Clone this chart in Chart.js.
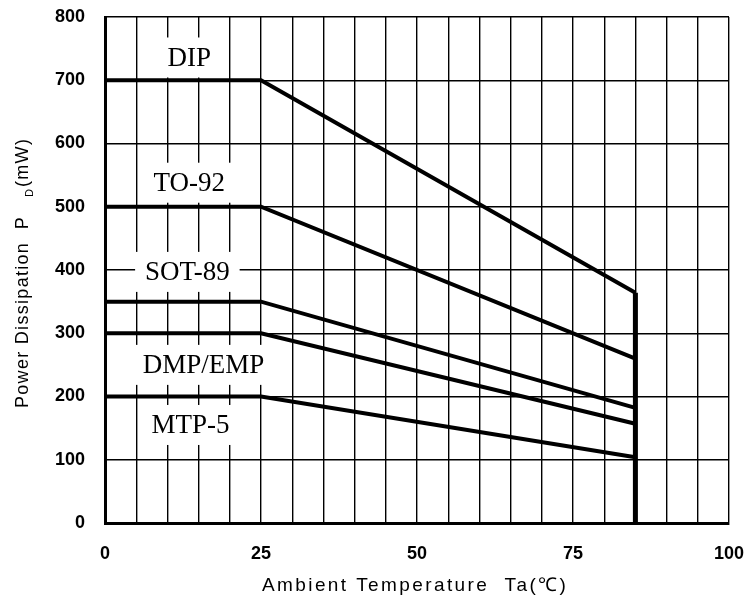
<!DOCTYPE html>
<html>
<head>
<meta charset="utf-8">
<script src="https://cdn.jsdelivr.net/npm/chart.js@4.4.1/dist/chart.umd.min.js"></script>
<style>
  html, body { margin: 0; padding: 0; background: #fff; }
  #wrap { width: 749px; height: 601px; }
</style>
</head>
<body>
<div id="wrap"><canvas id="c" width="749" height="601"></canvas></div>
<script>
'use strict';

// データ（読み取り値）
const temps = [0, 25, 85];
const packages = ['DIP', 'TO-92', 'SOT-89', 'DMP/EMP', 'MTP-5'];
const pdDIP = [700, 700, 364];
const pdTO92 = [500, 500, 260];
const pdSOT89 = [350, 350, 182];
const pdDMP = [300, 300, 157];
const pdMTP5 = [200, 200, 104];
const cutoffX = [85, 85];
const cutoffY = [364, 0];
// ラベル位置（データ座標）
const labelX = [13.5, 13.5, 13.2, 15.8, 13.7];
const labelY = [736, 538, 397, 250, 155];
const xTicks = [0, 25, 50, 75, 100];

const seriesValues = [pdDIP, pdTO92, pdSOT89, pdDMP, pdMTP5];

function toPoints(xs, ys) {
  return xs.map((x, i) => ({ x, y: ys[i] }));
}

const datasets = seriesValues.map((vals, i) => ({
  label: packages[i],
  data: toPoints(temps, vals),
  borderColor: '#000',
  borderWidth: 4,
  pointRadius: 0,
  fill: false,
}));
datasets.push({
  label: 'cutoff',
  data: toPoints(cutoffX, cutoffY),
  borderColor: '#000',
  borderWidth: 5,
  pointRadius: 0,
  fill: false,
});

const SANS = '"Liberation Sans", Arial, sans-serif';

// パッケージ名（白背景つき）
const labelPlugin = {
  id: 'pkgLabels',
  beforeDatasetsDraw(chart) {
    const { ctx, scales } = chart;
    ctx.save();
    ctx.font = '27px "Liberation Serif", "Times New Roman", serif';
    ctx.textAlign = 'center';
    ctx.textBaseline = 'middle';
    packages.forEach((name, i) => {
      const x = scales.x.getPixelForValue(labelX[i]);
      const y = scales.y.getPixelForValue(labelY[i]);
      const w = ctx.measureText(name).width;
      ctx.fillStyle = '#fff';
      ctx.fillRect(x - w / 2 - 10, y - 20, w + 20, 40);
      ctx.fillStyle = '#000';
      ctx.fillText(name, x, y + 1);
    });
    ctx.restore();
  },
  afterDraw(chart) {
    const { ctx } = chart;
    ctx.save();
    ctx.fillStyle = '#000';

    // x軸タイトル
    ctx.font = '19px ' + SANS;
    ctx.letterSpacing = '2.4px';
    ctx.textAlign = 'left';
    ctx.textBaseline = 'alphabetic';
    ctx.fillText('Ambient Temperature  Ta(\u2103)', 262, 591);

    // y軸タイトル（下付きD）
    ctx.translate(28, 408);
    ctx.rotate(-Math.PI / 2);
    ctx.letterSpacing = '1.3px';
    ctx.font = '18px ' + SANS;
    ctx.fillText('Power Dissipation  P', 0, 0);
    ctx.letterSpacing = '0px';
    ctx.font = '11px ' + SANS;
    ctx.fillText('D', 211, 5);
    ctx.letterSpacing = '1.3px';
    ctx.font = '18px ' + SANS;
    ctx.fillText('(mW)', 221, 0);
    ctx.restore();
  },
};

new Chart(document.getElementById('c').getContext('2d'), {
  type: 'line',
  data: { datasets },
  options: {
    responsive: false,
    animation: false,
    layout: { padding: { top: 17, right: 20, left: 0, bottom: 0 } },
    plugins: {
      legend: { display: false },
      tooltip: { enabled: false },
    },
    scales: {
      x: {
        type: 'linear',
        min: 0,
        max: 100,
        afterFit(s) {
          s.height = 78;
          s.paddingLeft = 0;
          s.paddingRight = 0;
        },
        afterBuildTicks(s) {
          const t = [];
          for (let v = 0; v <= 100; v += 5) t.push({ value: v });
          s.ticks = t;
        },
        grid: { color: '#000', lineWidth: 1.4, drawTicks: false },
        border: { color: '#000', width: 3 },
        ticks: {
          color: '#000',
          padding: 20,
          maxRotation: 0,
          autoSkip: false,
          font: { family: SANS, size: 18, weight: 'bold' },
          callback(v) { return xTicks.includes(v) ? String(v) : ''; },
        },
      },
      y: {
        min: 0,
        max: 800,
        afterFit(s) {
          s.width = 105;
          s.paddingTop = 0;
          s.paddingBottom = 0;
        },
        grid: { color: '#000', lineWidth: 1.4, drawTicks: false },
        border: { color: '#000', width: 3 },
        ticks: {
          stepSize: 100,
          color: '#000',
          padding: 20,
          font: { family: SANS, size: 18, weight: 'bold' },
        },
      },
    },
  },
  plugins: [labelPlugin],
});
</script>
</body>
</html>
